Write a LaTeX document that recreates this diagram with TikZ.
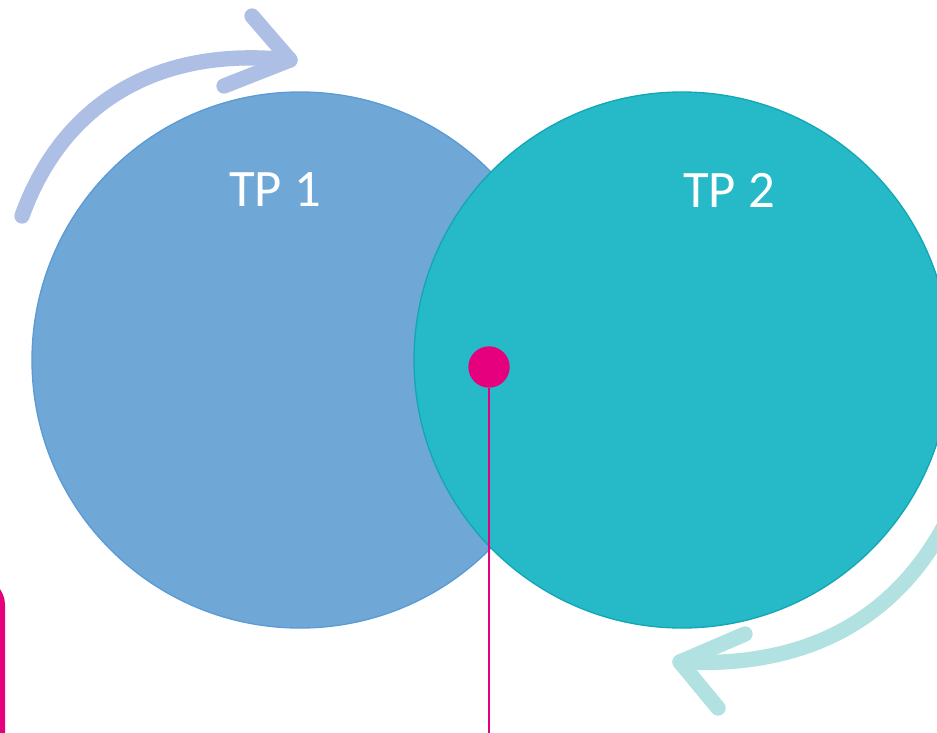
\documentclass[tikz,border=0pt]{standalone}
\usepackage{fontspec}
\setmainfont{Carlito}
\usepackage{tikz}
\usetikzlibrary{positioning}

\definecolor{tpblue}{RGB}{111,168,215}
\definecolor{tpblueline}{RGB}{91,155,213}
\definecolor{tpteal}{RGB}{38,185,199}
\definecolor{tptealline}{RGB}{19,166,181}
\definecolor{tppink}{RGB}{230,0,126}
\definecolor{arrowblue}{RGB}{174,191,230}
\definecolor{arrowteal}{RGB}{177,225,224}

\begin{document}
\begin{tikzpicture}[x=0.75pt,y=-0.75pt,
  disc/.style={circle, minimum size=402pt, inner sep=0pt, line width=1pt},
  tplabel/.style={text=white, font=\fontsize{39.5}{46}\selectfont},
  sketch/.style={line width=11.5pt, line cap=round, line join=round},
  stem/.style={draw=tppink, line width=1.5pt}]
\clip (0,0) rectangle (937,732);

% side tab
\fill[tppink, rounded corners=20pt] (-80,578) rectangle (5,800);

% the two circles
\node[disc, fill=tpblue, draw=tpblueline] (tp1) at (300,360) {};
\node[disc, fill=tpteal, draw=tptealline] (tp2) at (682,360) {};
\node[tplabel] (tp1text) at (275,190) {TP 1};
\node[tplabel] (tp2text) at (729,190) {TP 2};

% marker
\node[circle, fill=tppink, minimum size=31pt, inner sep=0pt] (dot) at (489,367) {};
\coordinate (stemend) at (489,745);
\draw[stem] (dot) -- (stemend);

% cycle arrows
\coordinate (tailA) at (22,216);
\coordinate (tipA) at (290,60);
\coordinate (barbA1) at (252,16);
\coordinate (barbA2) at (224,86);
\draw[sketch, draw=arrowblue] (tailA) .. controls (60,110) and (150,45) .. (tipA);
\draw[sketch, draw=arrowblue] (barbA1) -- (tipA) -- (barbA2);

\coordinate (tailB) at (950,515);
\coordinate (tipB) at (680,662);
\coordinate (barbB1) at (745,634);
\coordinate (barbB2) at (718,708);
\draw[sketch, draw=arrowteal] (tailB) .. controls (895,625) and (800,668) .. (tipB);
\draw[sketch, draw=arrowteal] (barbB1) -- (tipB) -- (barbB2);
\end{tikzpicture}
\end{document}
